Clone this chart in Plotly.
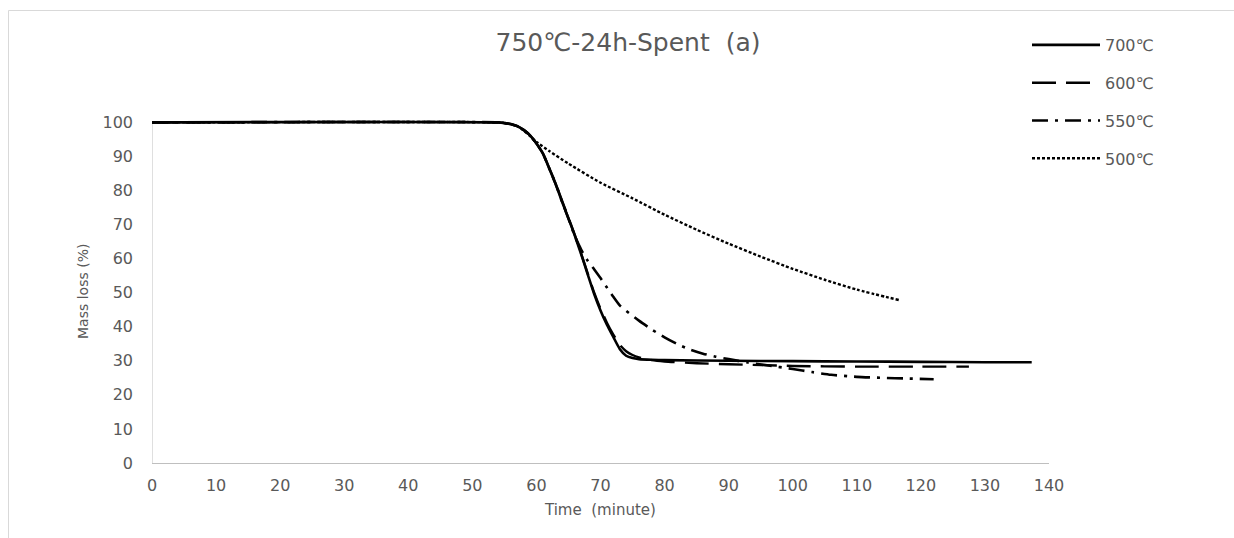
import plotly.graph_objects as go

# ---------------- data ----------------
t_700 = [0, 54, 55, 56, 57, 58, 59, 60, 61, 62, 63, 64, 65, 66, 67, 68, 69, 70,
         71, 72, 73, 74, 75, 76, 78, 80, 90, 100, 110, 120, 130, 137.3]
m_700 = [100, 100, 99.8, 99.5, 98.9, 97.8, 96.2, 93.8, 90.9, 86.5, 81.9, 76.7,
         71.8, 66.7, 61.2, 55.4, 49.7, 44.8, 40.6, 37.0, 33.5, 31.5, 30.8, 30.5,
         30.3, 30.2, 30.0, 29.9, 29.8, 29.7, 29.6, 29.6]

t_600 = [0, 54, 55, 56, 57, 58, 59, 60, 61, 62, 63, 64, 65, 66, 67, 68, 69, 70,
         71, 72, 73, 74, 75, 76, 78, 80, 85, 90, 100, 110, 120, 127.5]
m_600 = [100, 100, 99.8, 99.5, 98.9, 97.8, 96.2, 93.8, 90.9, 86.6, 82.1, 77.0,
         72.0, 66.9, 61.4, 55.7, 50.1, 45.3, 41.2, 37.7, 34.7, 32.8, 31.7, 31.0,
         30.2, 29.8, 29.3, 29.0, 28.5, 28.3, 28.3, 28.3]

t_550 = [0, 54, 55, 56, 57, 58, 59, 60, 61, 62, 63, 64, 65, 66, 67, 68, 69, 70,
         71, 72, 73, 74, 76, 78, 80, 82, 84, 86, 88, 90, 93, 96, 100, 103, 106,
         110, 114, 118, 122]
m_550 = [100, 100, 99.8, 99.5, 98.9, 97.8, 96.2, 93.8, 90.9, 86.5, 81.9, 76.7,
         71.8, 66.6, 62.6, 59.4, 56.9, 54.3, 51.5, 48.8, 46.3, 44.7, 41.8, 39.2,
         36.9, 34.9, 33.3, 32.1, 31.2, 30.5, 29.5, 28.7, 27.6, 26.7, 25.9, 25.3,
         25.0, 24.8, 24.6]

t_500 = [0, 54, 55, 56, 57, 58, 59, 60, 62, 65, 70, 75, 80, 85, 90, 95, 100,
         105, 110, 116.7]
m_500 = [100, 100, 99.8, 99.5, 98.9, 97.6, 96.0, 94.3, 91.6, 87.9, 82.3, 77.7,
         72.9, 68.5, 64.4, 60.6, 57.0, 53.8, 50.9, 47.8]

series_names = ["700℃", "600℃", "550℃", "500℃"]
title_text = "750℃-24h-Spent  (a)"
x_title = "Time  (minute)"
y_title = "Mass loss (%)"
x_ticks = list(range(0, 141, 10))
y_ticks = list(range(0, 101, 10))

# ---------------- layout constants ----------------
W, H = 1234, 538
L, R, T, B = 152, 185, 119, 75
PW, PH = W - L - R, H - T - B
FONT = "DejaVu Sans, Arial, sans-serif"
GREY = "#595959"


def px_x(px):
    return (px - L) / PW


def px_y(py):
    return (H - B - py) / PH


styles = [
    dict(color="black", width=2.6, dash="solid"),
    dict(color="black", width=2.4, dash="24px,10px"),
    dict(color="black", width=2.6, dash="16px,7px,3px,7px"),
    dict(color="black", width=2.4, dash="3px,2px"),
]
data = [(t_700, m_700), (t_600, m_600), (t_550, m_550), (t_500, m_500)]

fig = go.Figure()
for name, (tx, my), st in zip(series_names, data, styles):
    fig.add_trace(go.Scatter(x=tx, y=my, mode="lines", name=name,
                             line=dict(shape="spline", smoothing=0.6, **st),
                             legendgroup=name))

fig.update_layout(
    width=W, height=H,
    margin=dict(l=L, r=R, t=T, b=B, pad=0),
    paper_bgcolor="white", plot_bgcolor="white",
    font=dict(family=FONT, size=16, color=GREY),
    title=dict(text=title_text, x=628 / W, y=1 - 42 / H, xref="container",
               yref="container", xanchor="center", yanchor="middle",
               font=dict(family=FONT, size=25, color=GREY)),
    showlegend=True,
    legend=dict(x=px_x(1027), y=px_y(28), xanchor="left", yanchor="top",
                xref="paper", yref="paper",
                font=dict(family=FONT, size=16, color=GREY),
                bgcolor="rgba(0,0,0,0)", itemwidth=68, tracegroupgap=14,
                traceorder="grouped"),
    xaxis=dict(range=[0, 140], tickvals=x_ticks, showgrid=False,
               zeroline=False, showline=True, linecolor="#BFBFBF",
               linewidth=1, ticks="", ticklabelstandoff=8,
               tickfont=dict(family=FONT, size=16, color=GREY)),
    yaxis=dict(range=[0, 101], tickvals=y_ticks, showgrid=False,
               zeroline=False, showline=False, ticks="",
               ticklabelstandoff=18,
               tickfont=dict(family=FONT, size=16, color=GREY)),
    shapes=[
        dict(type="line", xref="x", yref="y", x0=0, x1=0, y0=0, y1=100,
             line=dict(color="#BFBFBF", width=1), layer="below"),
        dict(type="rect", xref="paper", yref="paper",
             x0=px_x(8.5), x1=px_x(1300), y0=px_y(600), y1=px_y(10.5),
             line=dict(color="#D9D9D9", width=1), fillcolor="rgba(0,0,0,0)",
             layer="below"),
    ],
    annotations=[
        dict(text=x_title, xref="paper", yref="paper", x=px_x(600),
             y=px_y(510), xanchor="center", yanchor="middle", showarrow=False,
             font=dict(family=FONT, size=15, color=GREY)),
        dict(text=y_title, xref="paper", yref="paper", x=px_x(83),
             y=px_y(292), xanchor="center", yanchor="middle", showarrow=False,
             textangle=-90, font=dict(family=FONT, size=14, color=GREY)),
    ],
)

fig.write_html("out.html")
